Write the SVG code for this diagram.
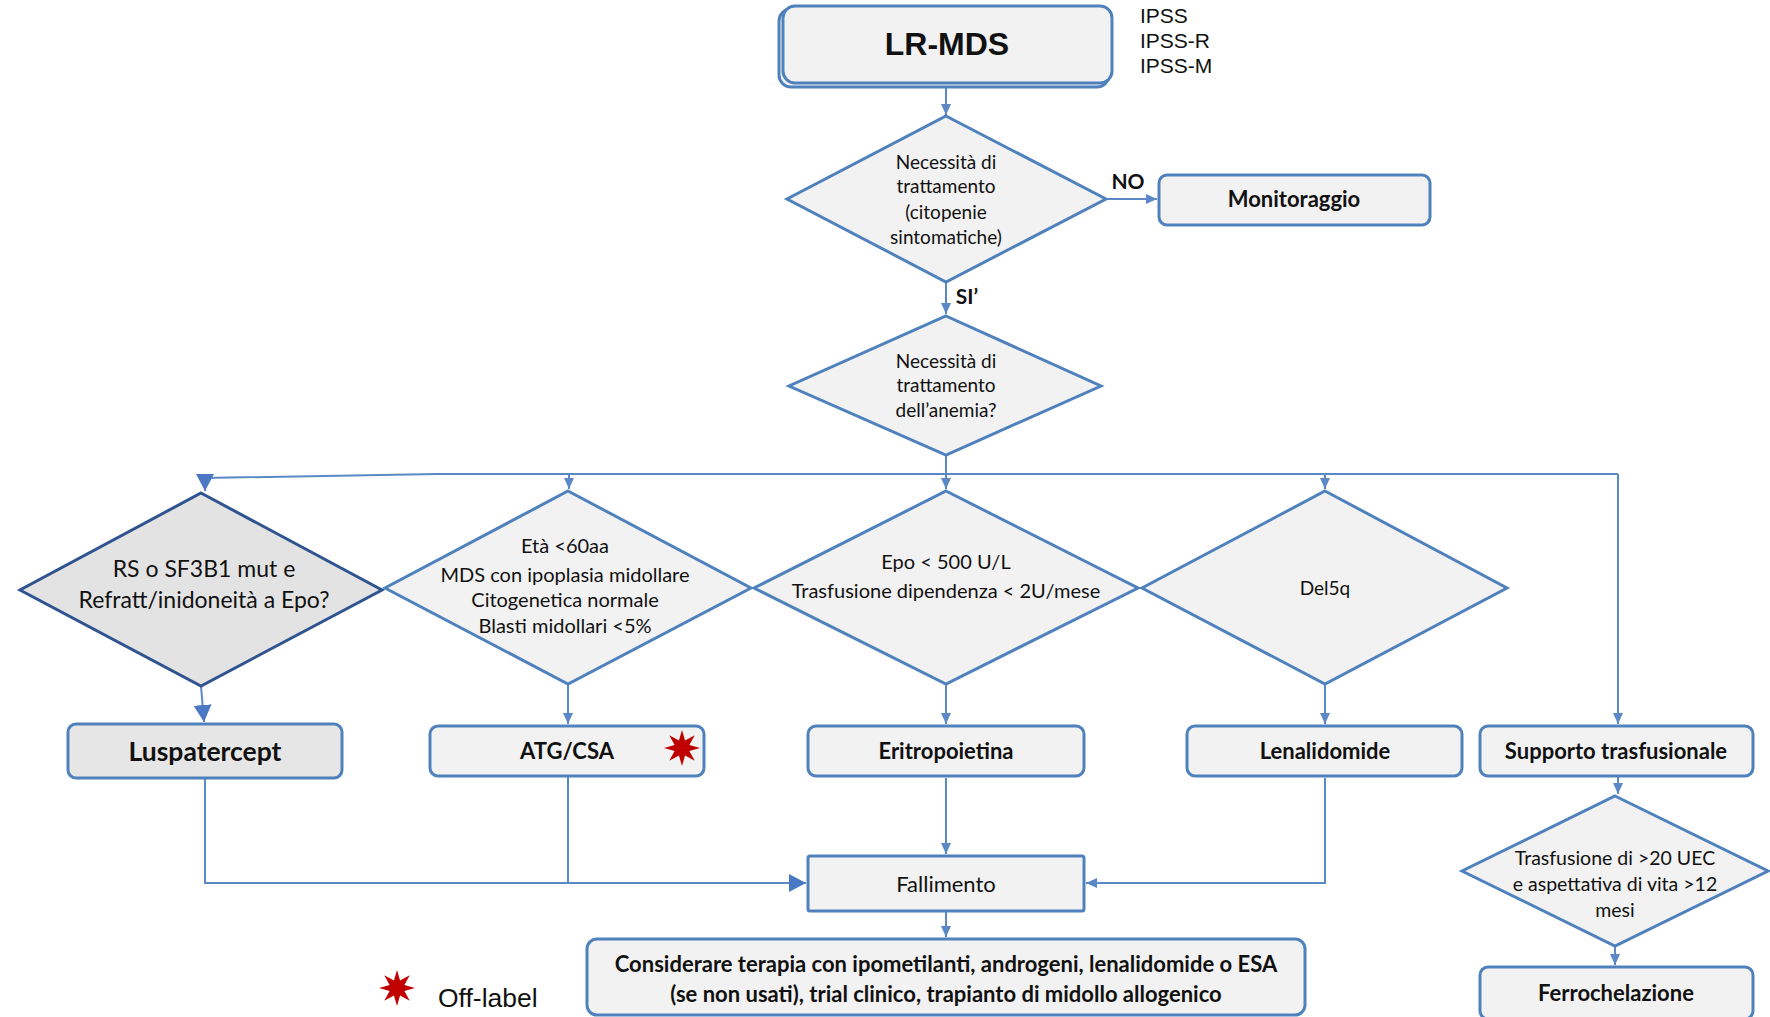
<svg xmlns="http://www.w3.org/2000/svg" width="1770" height="1017" viewBox="0 0 1770 1017">
<style>
.box{fill:#f2f2f2;stroke:#4f81bd;stroke-width:3}
.dia{fill:#f2f2f2;stroke:#4f81bd;stroke-width:3}
.dark{fill:#e3e3e3;stroke:#2f5490}
.con{fill:none;stroke:#5b88c6;stroke-width:2}
.t{font-family:Lato,"Open Sans",sans-serif;font-size:20px;fill:#111;text-anchor:middle}
.b{font-family:Lato,"Open Sans",sans-serif;font-weight:bold;font-size:22px;fill:#111;text-anchor:middle}
.a{font-family:"Liberation Sans",Arial,sans-serif;fill:#111}
</style>
<defs>
<marker id="ar" markerUnits="userSpaceOnUse" markerWidth="12" markerHeight="12" refX="11" refY="6" orient="auto">
<path d="M0,1 L11,6 L0,11 z" fill="#5b88c6"/>
</marker>
<marker id="arB" markerUnits="userSpaceOnUse" markerWidth="18" markerHeight="18" refX="17" refY="9" orient="auto">
<path d="M0,0 L17,9 L0,18 z" fill="#4a78c4"/>
</marker>
<polygon id="star" fill="#c00000" points="0,-18 3.06,-7.39 12.73,-12.73 7.39,-3.06 18,0 7.39,3.06 12.73,12.73 3.06,7.39 0,18 -3.06,7.39 -12.73,12.73 -7.39,3.06 -18,0 -7.39,-3.06 -12.73,-12.73 -3.06,-7.39"/>
</defs>

<g id="connectors">
<path class="con" d="M946,86 V115" marker-end="url(#ar)"/>
<path class="con" d="M1106,199 H1157" marker-end="url(#ar)"/>
<path class="con" d="M946,282 V314" marker-end="url(#ar)"/>
<path class="con" d="M946,455 V474"/>
<path class="con" d="M437,474 H1618"/>
<path class="con" d="M437,474 L205,478 V491" marker-end="url(#arB)"/>
<path class="con" d="M569,474 V489" marker-end="url(#ar)"/>
<path class="con" d="M946,474 V489" marker-end="url(#ar)"/>
<path class="con" d="M1325,474 V489" marker-end="url(#ar)"/>
<path class="con" d="M1618,474 V724" marker-end="url(#ar)"/>
<path class="con" d="M754,588 H753" marker-end="url(#ar)"/>
<path class="con" d="M1138,588 H1141" marker-end="url(#ar)"/>
<path class="con" d="M201,686 L204,722" marker-end="url(#arB)"/>
<path class="con" d="M568,684 V724" marker-end="url(#ar)"/>
<path class="con" d="M946,684 V724" marker-end="url(#ar)"/>
<path class="con" d="M1325,684 V724" marker-end="url(#ar)"/>
<path class="con" d="M205,778 V883 H806" marker-end="url(#arB)"/>
<path class="con" d="M568,775 V883"/>
<path class="con" d="M946,778 V854" marker-end="url(#ar)"/>
<path class="con" d="M1325,778 V883 H1086" marker-end="url(#ar)"/>
<path class="con" d="M946,911 V937" marker-end="url(#ar)"/>
<path class="con" d="M1618,776 V794" marker-end="url(#ar)"/>
<path class="con" d="M1615,946 V965" marker-end="url(#ar)"/>
</g>

<g id="lrmds">
<rect x="779" y="9" width="330" height="78" rx="12" fill="#f2f2f2" stroke="#4f81bd" stroke-width="3"/>
<rect x="783" y="6" width="329" height="77" rx="12" class="box"/>
<text x="947" y="55" class="a" font-size="32" font-weight="bold" text-anchor="middle">LR-MDS</text>
</g>
<g id="scores">
<text x="1140" y="23" class="a" font-size="21">IPSS</text>
<text x="1140" y="48" class="a" font-size="21">IPSS-R</text>
<text x="1140" y="73" class="a" font-size="21">IPSS-M</text>
</g>

<g id="d1">
<polygon class="dia" points="946,116 1106,199 946,282 787,199"/>
<text class="t" x="946" y="169" style="font-size:19px">Necessità di</text>
<text class="t" x="946" y="193" style="font-size:19px">trattamento</text>
<text class="t" x="946" y="219" style="font-size:19px">(citopenie</text>
<text class="t" x="946" y="244" style="font-size:19px">sintomatiche)</text>
</g>
<text class="b" x="1128" y="189" style="font-size:21px">NO</text>
<text class="b" x="967" y="304" style="font-size:21px">SI’</text>

<g id="monitoraggio">
<rect x="1159" y="175" width="271" height="50" rx="8" class="box"/>
<text class="b" x="1294" y="207">Monitoraggio</text>
</g>

<g id="d2">
<polygon class="dia" points="946,316 1101,386 946,455 789,386"/>
<text class="t" x="946" y="368" style="font-size:19px">Necessità di</text>
<text class="t" x="946" y="392" style="font-size:19px">trattamento</text>
<text class="t" x="946" y="417" style="font-size:19px">dell’anemia?</text>
</g>

<g id="dLS">
<polygon class="dia dark" points="201,493 382,590 201,686 20,590"/>
<text class="t" x="204" y="577" style="font-size:23px">RS o SF3B1 mut e</text>
<text class="t" x="204" y="608" style="font-size:23px">Refratt/inidoneità a Epo?</text>
</g>

<g id="dATG">
<polygon class="dia" points="568,491 751,588 568,684 385,588"/>
<text class="t" x="565" y="553">Età &lt;60aa</text>
<text class="t" x="565" y="582">MDS con ipoplasia midollare</text>
<text class="t" x="565" y="607">Citogenetica normale</text>
<text class="t" x="565" y="633">Blasti midollari &lt;5%</text>
</g>

<g id="dEpo">
<polygon class="dia" points="946,491 1138,588 946,684 754,588"/>
<text class="t" x="946" y="569">Epo &lt; 500 U/L</text>
<text class="t" x="946" y="598">Trasfusione dipendenza &lt; 2U/mese</text>
</g>

<g id="dDel">
<polygon class="dia" points="1325,491 1507,588 1325,684 1142,588"/>
<text class="t" x="1325" y="595" style="font-size:19px">Del5q</text>
</g>

<g id="luspatercept">
<rect x="68" y="724" width="274" height="54" rx="8" class="box" style="fill:#e6e6e6"/>
<text class="b" x="205" y="761" style="font-size:26.5px">Luspatercept</text>
</g>
<g id="atg">
<rect x="430" y="726" width="274" height="50" rx="8" class="box"/>
<text class="b" x="567" y="759">ATG/CSA</text>
<use href="#star" x="682" y="748"/>
</g>
<g id="epo">
<rect x="808" y="726" width="276" height="50" rx="8" class="box"/>
<text class="b" x="946" y="759">Eritropoietina</text>
</g>
<g id="lena">
<rect x="1187" y="726" width="275" height="50" rx="8" class="box"/>
<text class="b" x="1325" y="759">Lenalidomide</text>
</g>
<g id="supporto">
<rect x="1480" y="726" width="273" height="50" rx="8" class="box"/>
<text class="b" x="1616" y="759">Supporto trasfusionale</text>
</g>

<g id="fallimento">
<rect x="808" y="856" width="276" height="55" rx="2" class="box"/>
<text class="t" x="946" y="892" style="font-size:22px">Fallimento</text>
</g>

<g id="considerare">
<rect x="587" y="939" width="718" height="76" rx="10" class="box"/>
<text class="b" x="946" y="972" style="font-size:22px">Considerare terapia con ipometilanti, androgeni, lenalidomide o ESA</text>
<text class="b" x="946" y="1002" style="font-size:22px">(se non usati), trial clinico, trapianto di midollo allogenico</text>
</g>

<g id="dTr">
<polygon class="dia" points="1615,796 1768,871 1615,946 1462,871"/>
<text class="t" x="1615" y="865" style="font-size:19.5px">Trasfusione di &gt;20 UEC</text>
<text class="t" x="1615" y="891" style="font-size:19.5px">e aspettativa di vita &gt;12</text>
<text class="t" x="1615" y="917" style="font-size:19.5px">mesi</text>
</g>

<g id="ferro">
<rect x="1480" y="967" width="273" height="52" rx="8" class="box"/>
<text class="b" x="1616" y="1001">Ferrochelazione</text>
</g>

<g id="legend">
<use href="#star" x="397" y="988"/>
<text x="438" y="1007" class="a" font-size="26.5">Off-label</text>
</g>
</svg>
